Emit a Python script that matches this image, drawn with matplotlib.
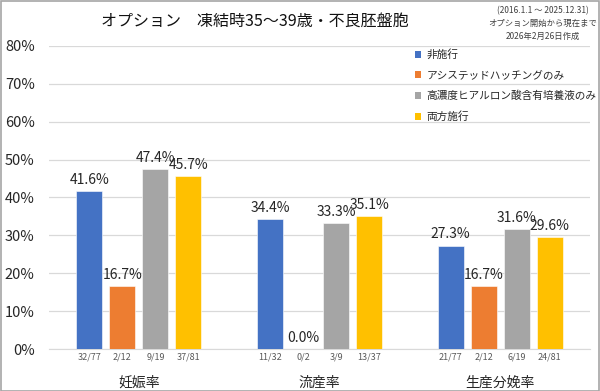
import numpy as np
import matplotlib.pyplot as plt
from matplotlib.patches import Patch, Rectangle

plt.rcParams['font.family'] = ['Noto Sans CJK JP', 'DejaVu Sans']

categories = ['妊娠率', '流産率', '生産分娩率']
series = ['非施行', 'アシステッドハッチングのみ', '高濃度ヒアルロン酸含有培養液のみ', '両方施行']
colors = ['#4472C4', '#ED7D31', '#A5A5A5', '#FFC000']
values = [
    [41.6, 34.4, 27.3],
    [16.7, 0.0, 16.7],
    [47.4, 33.3, 31.6],
    [45.7, 35.1, 29.6],
]
fractions = [
    ['32/77', '11/32', '21/77'],
    ['2/12', '0/2', '2/12'],
    ['9/19', '3/9', '6/19'],
    ['37/81', '13/37', '24/81'],
]
yticks = np.arange(0, 81, 10)

fig = plt.figure(figsize=(6.0, 3.91), dpi=100)
ax = fig.add_axes([0.081, 0.1074, 0.903, 0.775])
x = np.arange(len(categories))
width = 0.144
step = 0.183

for i, (name, c) in enumerate(zip(series, colors)):
    pos = x + (i - 1.5) * step
    ax.bar(pos, values[i], width, color=c, edgecolor='white', linewidth=0.4, zorder=3)
    for px, v, fr in zip(pos, values[i], fractions[i]):
        ax.annotate(f'{v:.1f}%', (px, v), xytext=(0, 3), textcoords='offset points',
                    ha='center', va='bottom', fontsize=10, color='#262626', zorder=4)
        ax.text(px, -0.025, fr, transform=ax.get_xaxis_transform(), ha='center', va='center',
                fontsize=6.5, color='#595959')

ax.set_xlim(-0.5, 2.5)
ax.set_ylim(0, 80)
ax.set_yticks(yticks)
ax.set_yticklabels([f'{t}%' for t in yticks], fontsize=10.5, color='#262626')
ax.set_xticks(x)
ax.set_xticklabels(categories, fontsize=10, color='#262626')
ax.tick_params(axis='x', length=0, pad=19)
ax.tick_params(axis='y', length=0, pad=10)
ax.grid(axis='y', color='#D9D9D9', linewidth=0.9, zorder=0)
for s in ['top', 'right', 'left']:
    ax.spines[s].set_visible(False)
ax.spines['bottom'].set_color('#D9D9D9')

handles = [Patch(facecolor=c, label=n) for n, c in zip(series, colors)]
ax.legend(handles=handles, loc='upper left', bbox_to_anchor=(0.658, 1.02), frameon=False,
          fontsize=7.7, handlelength=0.6, handleheight=0.6, handletextpad=0.5,
          labelspacing=0.95, labelcolor='#262626')

fig.text(0.425, 0.945, 'オプション　凍結時35～39歳・不良胚盤胞', ha='center', va='center',
         fontsize=11.5, color='#111111')
fig.text(0.905, 0.94, '(2016.1.1 ～ 2025.12.31)\nオプション開始から現在まで\n2026年2月26日作成',
         ha='center', va='center', fontsize=6, color='#404040', linespacing=1.5)

fig.patches.append(Rectangle((0.001, 0.001), 0.998, 0.997, transform=fig.transFigure,
                             fill=False, edgecolor='#A6A6A6', linewidth=1.2))

fig.savefig('out.png', dpi=100)
